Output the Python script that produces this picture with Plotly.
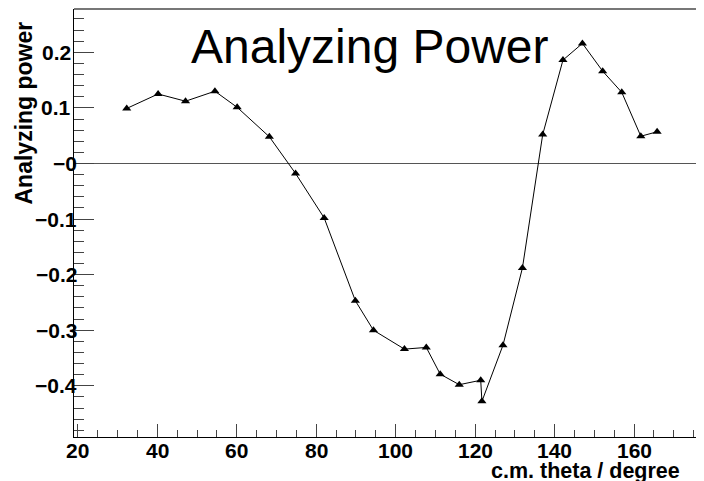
import plotly.graph_objects as go

# Data
theta = [32.3, 40.2, 47.1, 54.5, 60.1, 68.2, 74.8, 82.0, 89.85, 94.4, 102.2, 107.7,
         111.2, 116.0, 121.4, 121.7, 127.0, 131.9, 137.0, 142.1, 147.0, 152.1,
         156.9, 161.7, 165.8]
analyzing_power = [0.099, 0.125, 0.112, 0.130, 0.101, 0.048, -0.018, -0.098, -0.247,
                   -0.300, -0.334, -0.331, -0.379, -0.398, -0.390, -0.428, -0.327,
                   -0.188, 0.052, 0.186, 0.216, 0.166, 0.128, 0.049, 0.057]

x_tick_vals = [20, 40, 60, 80, 100, 120, 140, 160]
x_tick_text = ["20", "40", "60", "80", "100", "120", "140", "160"]
y_tick_vals = [0.2, 0.1, 0.0, -0.1, -0.2, -0.3, -0.4]
y_tick_text = ["0.2", "0.1", "\u22120", "\u22120.1", "\u22120.2", "\u22120.3", "\u22120.4"]

# The page body has an 8px margin; work in window pixels and convert.
OFF = 8
W, H = 704 - OFF, 481 - OFF
ML, MR, MT, MB = 74 - OFF, 0, 1, 44
PW = W - ML - MR
PH = H - MT - MB


def px_to_paper_x(px):  # px in window coordinates
    return (px - OFF - ML) / PW


def px_to_paper_y(py):  # py in window coordinates
    return (H - MB - (py - OFF)) / PH


FONT = "Liberation Sans, Arial, Helvetica, sans-serif"
TICKFONT = dict(family=FONT, size=21, color="black", weight="bold")

fig = go.Figure()
fig.add_trace(go.Scatter(
    x=theta, y=analyzing_power, mode="lines+markers",
    line=dict(color="black", width=1),
    marker=dict(symbol="triangle-up", size=8, color="black"),
    showlegend=False,
))

annotations = [
    dict(text="Analyzing Power", xref="paper", yref="paper",
         x=px_to_paper_x(370), y=px_to_paper_y(47),
         xanchor="center", yanchor="middle", showarrow=False,
         font=dict(family=FONT, size=48, color="black")),
    dict(text="Analyzing power", xref="paper", yref="paper",
         x=px_to_paper_x(23), y=px_to_paper_y(113.5),
         xanchor="center", yanchor="middle", showarrow=False, textangle=-90,
         font=dict(family=FONT, size=23, color="black", weight="bold")),
    dict(text="c.m. theta / degree", xref="paper", yref="paper",
         x=px_to_paper_x(682), y=px_to_paper_y(471),
         xanchor="right", yanchor="middle", showarrow=False,
         font=dict(family=FONT, size=21.5, color="black", weight="bold")),
]
# Tick labels placed the way ROOT does (overlapping the axis slightly)
for v, t in zip(y_tick_vals, y_tick_text):
    annotations.append(dict(
        text=t, xref="paper", yref="y",
        x=px_to_paper_x(79 if t.startswith("\u2212") else 73), y=v,
        xanchor="right", yanchor="middle", showarrow=False,
        font=TICKFONT))
for v, t in zip(x_tick_vals, x_tick_text):
    annotations.append(dict(
        text=t, xref="x", yref="paper",
        x=v, y=px_to_paper_y(450),
        xanchor="center", yanchor="middle", showarrow=False,
        font=TICKFONT))

fig.update_layout(
    width=W, height=H,
    margin=dict(l=ML, r=MR, t=MT, b=MB, pad=0),
    paper_bgcolor="white", plot_bgcolor="white",
    xaxis=dict(
        range=[19.03, 177.6], showgrid=False, zeroline=False,
        showline=True, linecolor="black", linewidth=1,
        ticks="inside", ticklen=13, tickwidth=1, tickcolor="#444",
        tickmode="array", tickvals=x_tick_vals, showticklabels=False,
        minor=dict(tickmode="linear", tick0=0, dtick=5, ticks="inside",
                   ticklen=7, tickwidth=1, tickcolor="#444", showgrid=False),
    ),
    yaxis=dict(
        range=[-0.4921, 0.2779], showgrid=False,
        zeroline=True, zerolinecolor="#555", zerolinewidth=1,
        showline=True, linecolor="black", linewidth=1,
        ticks="inside", ticklen=20, tickwidth=1, tickcolor="#444",
        tickmode="array", tickvals=y_tick_vals, showticklabels=False,
        minor=dict(tickmode="linear", tick0=0, dtick=0.02, ticks="inside",
                   ticklen=10, tickwidth=1, tickcolor="#444", showgrid=False),
    ),
    shapes=[dict(type="line", xref="paper", yref="paper", x0=0, x1=1, y0=1, y1=1,
                 line=dict(color="#777", width=2))],
    annotations=annotations,
)

fig.write_html("out.html")
